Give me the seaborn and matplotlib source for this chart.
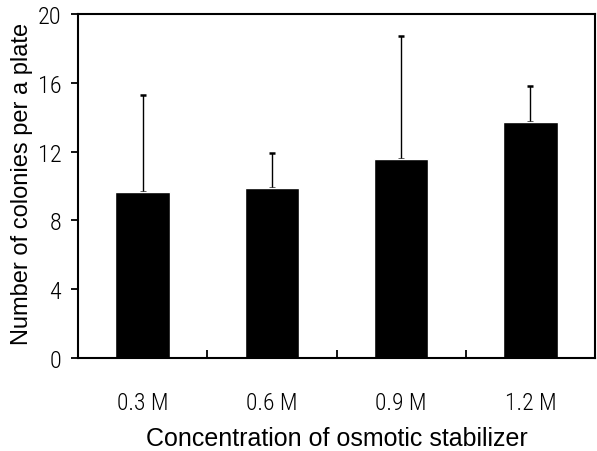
import matplotlib
matplotlib.use("Agg")
import matplotlib.pyplot as plt
import seaborn as sns
import pandas as pd
import numpy as np

categories = ["0.3 M", "0.6 M", "0.9 M", "1.2 M"]
means = [9.67, 9.9, 11.57, 13.74]
upper_err = [5.62, 2.02, 7.17, 2.09]
yticks = [0, 4, 8, 12, 16, 20]

sns.set_theme(style="white")
plt.rcParams['font.family'] = ['Liberation Sans', 'DejaVu Sans']
for k in ['text.color', 'axes.labelcolor', 'xtick.color', 'ytick.color']:
    plt.rcParams[k] = 'black'

df = pd.DataFrame({"conc": categories, "count": means})

fig = plt.figure(figsize=(5.97, 4.52), dpi=100)
ax = fig.add_axes([78/597, 1-359/452, (595-78)/597, (359-15)/452])

xpos = np.arange(len(categories))
ax.errorbar(xpos, means, yerr=[np.zeros(len(means)), upper_err], fmt="none",
            ecolor="black", elinewidth=1.0, capsize=2.5, capthick=1.8, zorder=0.5)
sns.barplot(data=df, x="conc", y="count", color="black", width=0.42,
            saturation=1, ax=ax, errorbar=None, zorder=2)

ax.set_xlim(-0.5, 3.5)
ax.set_ylim(0, 20)
ax.set_yticks(yticks)
ax.set_yticklabels([str(t) for t in yticks])

for s in ax.spines.values():
    s.set_visible(True)
    s.set_color("black")
    s.set_linewidth(1.5)

narrow = ['Roboto Condensed', 'DejaVu Sans']
ax.tick_params(axis='y', which='major', direction='out', length=5, width=1.3,
               color='black', pad=7, left=True, labelsize=17.5)
for lbl in ax.get_yticklabels():
    lbl.set_family(narrow)
    lbl.set_fontweight('light')
ax.set_xticks(xpos)
ax.set_xticklabels(categories)
ax.tick_params(axis='x', which='major', length=0, pad=24, labelsize=17)
for lbl in ax.get_xticklabels():
    lbl.set_family(narrow)
    lbl.set_fontweight('light')
ax.set_xticks([0.5, 1.5, 2.5], minor=True)
ax.tick_params(axis='x', which='minor', direction='in', length=6, width=1.3,
               color='black', bottom=True)

ax.set_xlabel("Concentration of osmotic stabilizer", fontsize=18, va='center')
ax.set_ylabel("Number of colonies per a plate", fontsize=17, va='center')
ax.xaxis.set_label_coords(0.5, (359-439)/344)
ax.yaxis.set_label_coords((22-78)/517, 0.51)

fig.savefig("out.png", dpi=100)
